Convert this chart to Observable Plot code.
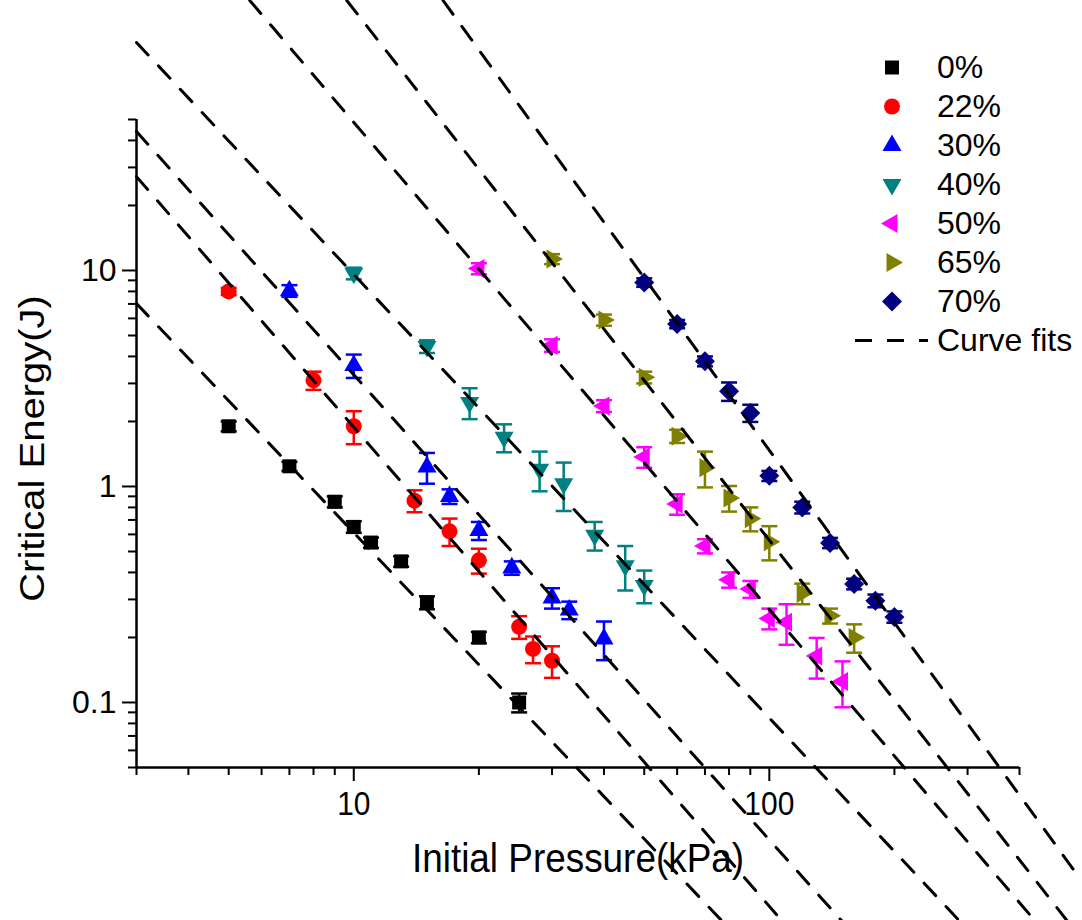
<!DOCTYPE html>
<html><head><meta charset="utf-8">
<script src="https://cdn.jsdelivr.net/npm/d3@7"></script>
<script src="https://cdn.jsdelivr.net/npm/@observablehq/plot@0.6"></script>
<style>
body{margin:0;background:#fff;}
#wrap{position:relative;width:1082px;height:920px;overflow:hidden;font-family:"Liberation Sans",Arial,sans-serif;}
#wrap svg.chart{display:block;}
#legend{position:absolute;left:850px;top:48px;}
.row{display:flex;align-items:center;height:39px;}
.row span{font-size:32px;line-height:39px;margin-left:3px;color:#000;white-space:nowrap;}
</style></head><body><div id="wrap"></div>
<script>
// ---- data ----
const seriesNames = ["0%", "22%", "30%", "40%", "50%", "65%", "70%"];
const seriesColors = ["#000000", "#ff0000", "#0000ff", "#008080", "#ff00ff", "#808000", "#000080"];

const p0  = [5, 7, 9, 10, 11, 13, 15, 20, 25];
const e0  = [1.9, 1.24, 0.85, 0.65, 0.55, 0.45, 0.29, 0.2, 0.1];
const d0  = [0.1, 0.06, 0.05, 0.04, 0.03, 0.025, 0.02, 0.012, 0.01];

const p22 = [5, 8, 10, 14, 17, 20, 25, 27, 30];
const e22 = [8.0, 3.1, 1.9, 0.86, 0.62, 0.455, 0.224, 0.177, 0.156];
const d22 = [0.3, 0.3, 0.33, 0.1, 0.09, 0.06, 0.027, 0.025, 0.026];

const p30 = [7, 10, 15, 17, 20, 24, 30, 33, 40];
const e30 = [8.05, 3.63, 1.23, 0.9, 0.625, 0.42, 0.305, 0.268, 0.197];
const d30 = [0.5, 0.45, 0.2, 0.07, 0.06, 0.03, 0.033, 0.025, 0.04];

const p40 = [10, 15, 19, 23, 28, 32, 38, 45, 50];
const e40 = [9.7, 4.45, 2.45, 1.69, 1.2, 1.03, 0.595, 0.43, 0.348];
const d40 = [0.6, 0.3, 0.4, 0.25, 0.25, 0.26, 0.09, 0.1, 0.06];

const p50 = [20, 30, 40, 50, 60, 70, 80, 90, 100, 110, 130, 150];
const e50 = [10.2, 4.5, 2.36, 1.37, 0.83, 0.53, 0.37, 0.335, 0.245, 0.235, 0.164, 0.125];
const d50 = [0.6, 0.3, 0.15, 0.15, 0.09, 0.04, 0.03, 0.03, 0.027, 0.05, 0.035, 0.03];

const p65 = [30, 40, 50, 60, 70, 80, 90, 100, 120, 140, 160];
const e65 = [11.3, 5.9, 3.2, 1.71, 1.22, 0.885, 0.71, 0.555, 0.32, 0.252, 0.2];
const d65 = [0.6, 0.35, 0.2, 0.12, 0.23, 0.12, 0.09, 0.1, 0.035, 0.02, 0.03];

const p70 = [50, 60, 70, 80, 90, 100, 120, 140, 160, 180, 200];
const e70 = [8.8, 5.65, 3.8, 2.76, 2.19, 1.12, 0.8, 0.548, 0.354, 0.296, 0.249];
const d70 = [0.4, 0.25, 0.2, 0.27, 0.2, 0.06, 0.05, 0.03, 0.02, 0.02, 0.015];

// dashed curve fits: end points (pressure, energy) read where each line enters and leaves the picture
const fitP = [[3.0, 76.7], [3.0, 107], [3.0, 149], [3.0, 286], [5.62, 435], [9.62, 520], [16.4, 565]];
const fitE = [[7.03, 0.0098], [27.2, 0.0098], [44.0, 0.0098], [113.6, 0.0098], [177.8, 0.0098], [177.8, 0.0098], [177.8, 0.0149]];

const xDomain = [3, 400];
const yDomain = [0.05, 50];
const xMajorTicks = [10, 100];
const xMinorTicks = [3, 4, 5, 6, 7, 8, 9, 20, 30, 40, 50, 60, 70, 80, 90, 200, 300, 400];
const yMajorTicks = [0.1, 1, 10];
const yMinorTicks = [0.05, 0.06, 0.07, 0.08, 0.09, 0.2, 0.3, 0.4, 0.5, 0.6, 0.7, 0.8, 0.9,
  2, 3, 4, 5, 6, 7, 8, 9, 20, 30, 40, 50];
const xTitle = "Initial Pressure(kPa)";
const yTitle = "Critical Energy(J)";
const fitLabel = "Curve fits";

// ---- symbols ----
const mk = fn => ({draw(c, size) { fn(c, Math.sqrt(size / Math.PI)); }});
const symSquare = mk((c, r) => { const h = 0.875 * r; c.moveTo(-h, -h); c.lineTo(h, -h); c.lineTo(h, h); c.lineTo(-h, h); c.closePath(); });
const symCircle = mk((c, r) => { c.moveTo(r, 0); c.arc(0, 0, r, 0, 2 * Math.PI); c.closePath(); });
const symUp = mk((c, r) => { c.moveTo(0, -1.375 * r); c.lineTo(1.19 * r, 0.69 * r); c.lineTo(-1.19 * r, 0.69 * r); c.closePath(); });
const symDown = mk((c, r) => { c.moveTo(0, 1.375 * r); c.lineTo(1.19 * r, -0.69 * r); c.lineTo(-1.19 * r, -0.69 * r); c.closePath(); });
const symLeft = mk((c, r) => { c.moveTo(-1.375 * r, 0); c.lineTo(0.69 * r, -1.19 * r); c.lineTo(0.69 * r, 1.19 * r); c.closePath(); });
const symRight = mk((c, r) => { c.moveTo(1.375 * r, 0); c.lineTo(-0.69 * r, -1.19 * r); c.lineTo(-0.69 * r, 1.19 * r); c.closePath(); });
const symDiamond = mk((c, r) => { const h = 1.25 * r; c.moveTo(0, -h); c.lineTo(h, 0); c.lineTo(0, h); c.lineTo(-h, 0); c.closePath(); });
const symCap = mk((c, r) => { c.moveTo(-r, 0); c.lineTo(r, 0); });
const seriesSymbols = [symSquare, symCircle, symUp, symDown, symLeft, symRight, symDiamond];

const P = [p0, p22, p30, p40, p50, p65, p70];
const E = [e0, e22, e30, e40, e50, e65, e70];
const D = [d0, d22, d30, d40, d50, d65, d70];

const R = 8;
const marks = [];
seriesNames.forEach((name, i) => {
  const rows = P[i].map((p, j) => ({p, e: E[i][j], lo: E[i][j] - D[i][j], hi: E[i][j] + D[i][j]}));
  const col = seriesColors[i];
  marks.push(Plot.dot(rows, {x: "p", y: "e", r: R, symbol: seriesSymbols[i], fill: col, stroke: "none"}));
  marks.push(Plot.ruleX(rows, {x: "p", y1: "lo", y2: "hi", stroke: col, strokeWidth: 2.5}));
  marks.push(Plot.dot(rows, {x: "p", y: "lo", r: R, symbol: symCap, fill: "none", stroke: col, strokeWidth: 2.5}));
  marks.push(Plot.dot(rows, {x: "p", y: "hi", r: R, symbol: symCap, fill: "none", stroke: col, strokeWidth: 2.5}));
});
const fitRows = [];
fitP.forEach((pp, i) => pp.forEach((p, j) => fitRows.push({s: seriesNames[i], p, e: fitE[i][j]})));
marks.push(Plot.line(fitRows, {x: "p", y: "e", z: "s", stroke: "#000", strokeWidth: 3, strokeDasharray: "17,15"}));

// axes
marks.push(Plot.axisX(xMinorTicks, {anchor: "bottom", tickSize: 8, tickFormat: () => "", strokeWidth: 2, label: null}));
marks.push(Plot.axisX(xMajorTicks, {anchor: "bottom", tickSize: 14, tickPadding: 9, tickFormat: d => String(d), strokeWidth: 2, fontSize: 34, label: null}));
marks.push(Plot.axisY(yMinorTicks, {anchor: "left", tickSize: 8, tickFormat: () => "", strokeWidth: 2, label: null}));
marks.push(Plot.axisY(yMajorTicks, {anchor: "left", tickSize: 14, tickPadding: 6, tickFormat: d => String(d), strokeWidth: 2, fontSize: 32, label: null}));
marks.push(Plot.ruleY([yDomain[0]], {stroke: "#000", strokeWidth: 2.5}));
marks.push(Plot.ruleX([xDomain[0]], {stroke: "#000", strokeWidth: 2.5}));
marks.push(Plot.text([xTitle], {text: d => d, frameAnchor: "bottom", textAnchor: "middle", lineAnchor: "middle", dy: 91, fontSize: 41, fill: "#000", className: "xtitle"}));
marks.push(Plot.text([yTitle], {text: d => d, frameAnchor: "left", textAnchor: "middle", lineAnchor: "middle", dx: -104, dy: 5, rotate: -90, fontSize: 40, fill: "#000", className: "ytitle"}));

const chart = Plot.plot({
  width: 1082, height: 920,
  marginLeft: 136, marginRight: 63, marginTop: 119, marginBottom: 153,
  x: {type: "log", domain: xDomain},
  y: {type: "log", domain: yDomain},
  style: {fontFamily: '"Liberation Sans", Arial, sans-serif', fontSize: "31px", color: "#000", background: "#fff", overflow: "hidden"},
  marks
});
chart.classList.add("chart");
// slightly condensed lettering, as in the reference
chart.querySelectorAll('g[aria-label="x-axis tick label"] text').forEach(t => {
  t.setAttribute("transform", (t.getAttribute("transform") || "") + " scale(0.88,1)");
});
chart.querySelectorAll(".xtitle text").forEach(t => {
  t.setAttribute("transform", (t.getAttribute("transform") || "") + " scale(0.9,1)");
});
chart.querySelectorAll(".ytitle text").forEach(t => {
  t.setAttribute("transform", (t.getAttribute("transform") || "") + " scale(1,0.88)");
});
const wrap = document.getElementById("wrap");
wrap.appendChild(chart);

// legend
function symPath(s, r) { const p = d3.path(); s.draw(p, Math.PI * r * r); return p.toString(); }
const legend = document.createElement("div");
legend.id = "legend";
seriesNames.forEach((name, i) => {
  const row = document.createElement("div");
  row.className = "row";
  row.innerHTML = `<svg width="84" height="39"><path transform="translate(42,19.5)" d="${symPath(seriesSymbols[i], R)}" fill="${seriesColors[i]}"></path></svg><span>${name}</span>`;
  legend.appendChild(row);
});
const frow = document.createElement("div");
frow.className = "row";
frow.innerHTML = `<svg width="84" height="39"><line x1="5" x2="78" y1="19.5" y2="19.5" stroke="#000" stroke-width="3" stroke-dasharray="17,15"></line></svg><span>${fitLabel}</span>`;
legend.appendChild(frow);
wrap.appendChild(legend);
</script></body></html>
